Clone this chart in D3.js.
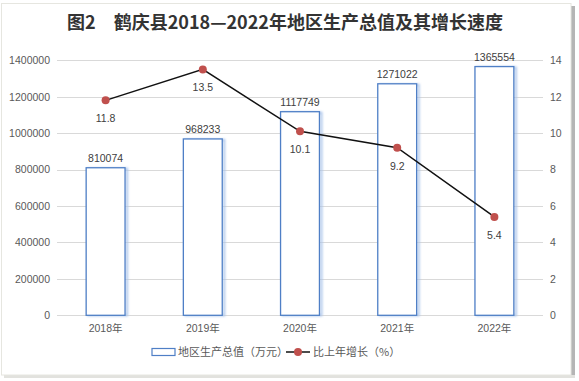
<!DOCTYPE html>
<html><head><meta charset="utf-8">
<script src="https://cdn.jsdelivr.net/npm/d3@7"></script>
<style>
html,body{margin:0;padding:0;background:#fff;}
svg text{font-family:"Liberation Sans","Noto Sans CJK SC",sans-serif;}
</style></head>
<body>
<svg id="chart" width="579" height="381"></svg>
<script>
const title = "图2　鹤庆县2018—2022年地区生产总值及其增长速度";
const categories = ["2018年","2019年","2020年","2021年","2022年"];
const gdpValues = [810074, 968233, 1117749, 1271022, 1365554];
const growthValues = [11.8, 13.5, 10.1, 9.2, 5.4];
const leftTicks = [0,200000,400000,600000,800000,1000000,1200000,1400000];
const rightTicks = [0,2,4,6,8,10,12,14];
const legendLabels = ["地区生产总值（万元）","比上年增长（%）"];

const svg = d3.select("#chart");
const W = 579, H = 381;
const m = {left:57, right:543, top:60.3, bottom:315.3};

// frame
const defs = svg.append("defs");
const f = defs.append("filter").attr("id","bs").attr("x","-20%").attr("y","-5%").attr("width","150%").attr("height","110%");
f.append("feGaussianBlur").attr("stdDeviation",1.2);
svg.append("rect").attr("x",571).attr("y",6).attr("width",4).attr("height",372).attr("fill","#b5b5b5");
svg.append("rect").attr("x",4).attr("y",375).attr("width",571).attr("height",3).attr("fill","#e2e2de");
svg.append("rect").attr("x",1.5).attr("y",3.5).attr("width",569.5).attr("height",371.5)
  .attr("fill","#fff").attr("stroke","#e6e6e0").attr("stroke-width",1);

svg.append("text").attr("x",285).attr("y",29).attr("text-anchor","middle")
  .attr("font-size",18).attr("font-weight","bold").attr("fill","#333")
  .style("font-family","'Noto Sans CJK SC',sans-serif").text(title);

const x = d3.scaleBand().domain(categories).range([m.left,m.right]).paddingInner(0.6).paddingOuter(0.3);
const yL = d3.scaleLinear().domain([0,1400000]).range([m.bottom,m.top]);
const yR = d3.scaleLinear().domain([0,14]).range([m.bottom,m.top]);
const xc = d => x(d)+x.bandwidth()/2;

// grid
svg.append("g").selectAll("line").data(leftTicks).join("line")
  .attr("x1",m.left).attr("x2",m.right)
  .attr("y1",d=>Math.round(yL(d))+0.5).attr("y2",d=>Math.round(yL(d))+0.5)
  .attr("stroke","#d9d9d9").attr("stroke-width",1);

// left axis
const gl = svg.append("g").attr("transform",`translate(${m.left},0)`)
  .call(d3.axisLeft(yL).tickValues(leftTicks).tickSize(0).tickPadding(7).tickFormat(d3.format("d")));
gl.select(".domain").remove();
gl.selectAll("text").attr("font-size",10.5).attr("fill","#595959").style("font-family","'Liberation Sans',sans-serif");

const gr = svg.append("g").attr("transform",`translate(${m.right},0)`)
  .call(d3.axisRight(yR).tickValues(rightTicks).tickSize(0).tickPadding(7));
gr.select(".domain").remove();
gr.selectAll("text").attr("font-size",10.5).attr("fill","#595959").style("font-family","'Liberation Sans',sans-serif");

const gx = svg.append("g").attr("transform",`translate(0,${m.bottom})`)
  .call(d3.axisBottom(x).tickSize(0).tickPadding(9));
gx.select(".domain").remove();
gx.selectAll("text").attr("font-size",10.5).attr("fill","#595959").style("font-family","'Liberation Sans','Noto Sans CJK SC',sans-serif");

// bars
const data = categories.map((c,i)=>({c, v:gdpValues[i], g:growthValues[i]}));
svg.append("g").selectAll("rect").data(data).join("rect")
  .attr("x",d=>x(d.c)+2).attr("y",d=>yL(d.v)+1).attr("width",x.bandwidth()).attr("height",d=>m.bottom-yL(d.v)-1)
  .attr("fill","none").attr("stroke","#a9c4ea").attr("stroke-width",2).attr("filter","url(#bs)");
svg.append("g").selectAll("rect").data(data).join("rect")
  .attr("x",d=>x(d.c)).attr("y",d=>yL(d.v)).attr("width",x.bandwidth()).attr("height",d=>m.bottom-yL(d.v))
  .attr("fill","#fff").attr("stroke","#4f7fc6").attr("stroke-width",1.3);
svg.append("g").selectAll("text").data(data).join("text")
  .attr("x",d=>xc(d.c)).attr("y",d=>yL(d.v)-6).attr("text-anchor","middle")
  .attr("font-size",10.5).attr("fill","#404040").text(d=>d.v);

// line
const line = d3.line().x(d=>xc(d.c)).y(d=>yR(d.g));
svg.append("path").datum(data).attr("d",line).attr("fill","none").attr("stroke","#111").attr("stroke-width",1.5);
svg.append("g").selectAll("circle").data(data).join("circle")
  .attr("cx",d=>xc(d.c)).attr("cy",d=>yR(d.g)).attr("r",4).attr("fill","#c0504d");
svg.append("g").selectAll("text").data(data).join("text")
  .attr("x",d=>xc(d.c)).attr("y",d=>yR(d.g)+22).attr("text-anchor","middle")
  .attr("font-size",10.5).attr("fill","#404040").text(d=>d.g);

// legend
const ly = 352;
svg.append("rect").attr("x",152).attr("y",ly-3.5).attr("width",23).attr("height",7)
  .attr("fill","#fff").attr("stroke","#4f7fc6").attr("stroke-width",1.2);
svg.append("text").attr("x",178).attr("y",ly+4).attr("font-size",11).attr("fill","#595959")
  .style("font-family","'Noto Sans CJK SC',sans-serif").text(legendLabels[0]);
svg.append("line").attr("x1",286).attr("x2",310).attr("y1",ly).attr("y2",ly).attr("stroke","#111").attr("stroke-width",1.5);
svg.append("circle").attr("cx",298).attr("cy",ly).attr("r",4).attr("fill","#c0504d");
svg.append("text").attr("x",313).attr("y",ly+4).attr("font-size",11).attr("fill","#595959")
  .style("font-family","'Noto Sans CJK SC',sans-serif").text(legendLabels[1]);
</script>
</body></html>
